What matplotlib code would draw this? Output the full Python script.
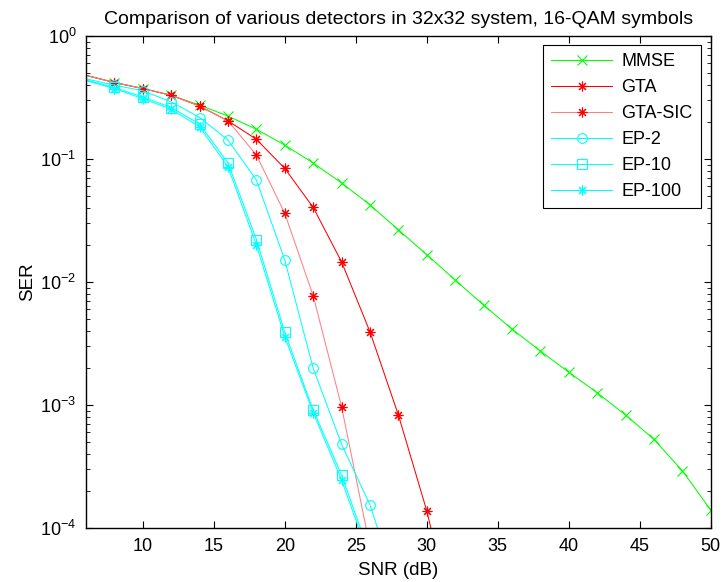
import matplotlib
matplotlib.use("Agg")
import matplotlib.pyplot as plt
import numpy as np

plt.rcParams["font.family"] = ["Liberation Sans", "DejaVu Sans"]

# SNR grid (dB)
snr = [6, 8, 10, 12, 14, 16, 18, 20, 22, 24, 26, 28, 30, 32, 34, 36, 38, 40,
       42, 44, 46, 48, 50]
mmse = [0.48, 0.42, 0.375, 0.33, 0.275, 0.224, 0.175, 0.13, 0.093, 0.064,
        0.0425, 0.0266, 0.0167, 0.0104, 0.0065, 0.00415, 0.00275, 0.00185,
        0.00126, 0.00083, 0.000526, 0.000292, 0.00014]

snr_gta = [6, 8, 10, 12, 14, 16, 18, 20, 22, 24, 26, 28, 30, 32]
gta = [0.48, 0.42, 0.375, 0.331, 0.27, 0.205, 0.145, 0.084, 0.0405, 0.0146,
       0.00394, 0.00083, 0.000138, 0.000015]

snr_sic = [6, 8, 10, 12, 14, 16, 18, 20, 22, 24, 26]
gta_sic = [0.48, 0.42, 0.375, 0.331, 0.27, 0.205, 0.108, 0.0362, 0.00774,
           0.00097, 0.00007]

snr_ep2 = [6, 8, 10, 12, 14, 16, 18, 20, 22, 24, 26, 28]
ep2 = [0.45, 0.40, 0.36, 0.292, 0.218, 0.143, 0.0675, 0.0151, 0.00199,
       0.00048, 0.000154, 0.00003]

snr_ep = [6, 8, 10, 12, 14, 16, 18, 20, 22, 24, 26]
ep10 = [0.44, 0.383, 0.32, 0.263, 0.193, 0.093, 0.0222, 0.0039, 0.00091,
        0.00027, 0.00006]
ep100 = [0.435, 0.375, 0.31, 0.255, 0.183, 0.0866, 0.020, 0.00359, 0.000867,
         0.000246, 0.000055]

fig = plt.figure(figsize=(7.23, 5.82), dpi=100)
ax = fig.add_axes([0.119, 0.0928, 0.864, 0.845])

lw = 0.75
ms = 7
mew = 0.8
skip = slice(1, None)
ax.semilogy(snr, mmse, color=(0, 1, 0), marker="x", ms=ms, lw=lw, mew=mew,
            markevery=skip, label="MMSE")
ax.semilogy(snr_gta, gta, color=(1, 0, 0), marker=(8, 2, 0), ms=ms, lw=lw,
            mew=mew, markevery=skip, label="GTA")
ax.semilogy(snr_sic, gta_sic, color=(1, 0.5, 0.5), marker=(8, 2, 0), ms=ms,
            mec=(1, 0, 0), lw=lw, mew=mew, markevery=skip, label="GTA-SIC")
ax.semilogy(snr_ep2, ep2, color=(0, 1, 1), marker="o", mfc="none", ms=ms,
            lw=lw, mew=mew, markevery=skip, label="EP-2")
ax.semilogy(snr_ep, ep10, color=(0, 1, 1), marker="s", mfc="none", ms=ms,
            lw=lw, mew=mew, markevery=skip, label="EP-10")
ax.semilogy(snr_ep, ep100, color=(0, 1, 1), marker=(8, 2, 0), ms=ms,
            lw=lw, mew=mew, markevery=skip, label="EP-100")

ax.set_xlim(6, 50)
ax.set_ylim(1e-4, 1)
ax.set_xticks([10, 15, 20, 25, 30, 35, 40, 45, 50])
ax.tick_params(which="both", direction="in", top=True, right=True,
               labelsize=13)
ax.tick_params(which="major", length=5)
ax.tick_params(which="minor", length=3)
ax.tick_params(axis="x", which="major", pad=7)
ax.tick_params(axis="y", which="major", pad=7)
for s in ax.spines.values():
    s.set_linewidth(1.0)

ax.set_xlabel("SNR (dB)", fontsize=13.5, labelpad=5)
ax.set_ylabel("SER", fontsize=13.5, labelpad=3)
ax.set_title("Comparison of various detectors in 32x32 system, 16-QAM symbols",
             fontsize=14, pad=9)

leg = ax.legend(loc="upper right", bbox_to_anchor=(0.99, 0.99),
                fontsize=13, fancybox=False, framealpha=1,
                edgecolor="black", handlelength=3.4, handletextpad=0.5,
                borderpad=0.45, labelspacing=0.5, borderaxespad=0.2)
leg.get_frame().set_linewidth(0.8)

fig.savefig("out.png", dpi=100)
